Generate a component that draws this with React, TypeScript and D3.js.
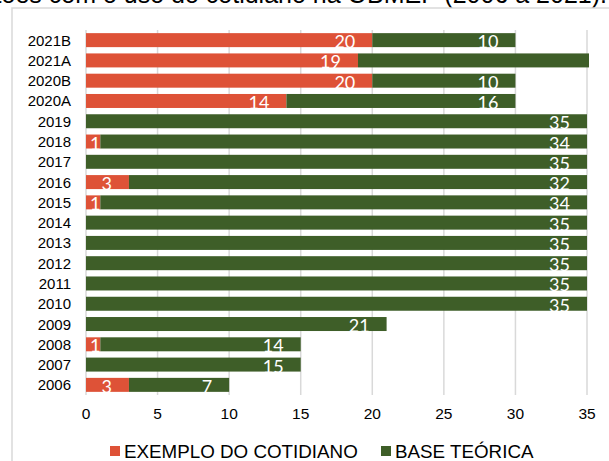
import React, { useEffect, useRef } from 'react';
import * as d3 from 'd3';

const categories = ['2021B', '2021A', '2020B', '2020A', '2019', '2018', '2017', '2016', '2015',
  '2014', '2013', '2012', '2011', '2010', '2009', '2008', '2007', '2006'];
const exemplo = [20, 19, 20, 14, 0, 1, 0, 3, 1, 0, 0, 0, 0, 0, 0, 1, 0, 3];
const base = [10, 17, 10, 16, 35, 34, 35, 32, 34, 35, 35, 35, 35, 35, 21, 14, 15, 7];
const seriesNames = ['EXEMPLO DO COTIDIANO', 'BASE TEÓRICA'];
const xTicks = [0, 5, 10, 15, 20, 25, 30, 35];
const title = 'Gráfico 2 – Questões com o uso do cotidiano na OBMEP (2006 a 2021).';

const colors = ['#DE5237', '#3E5E28'];
const W = 609;
const H = 461;

export default function App() {
  const ref = useRef<SVGSVGElement>(null);

  useEffect(() => {
    const svg = d3.select(ref.current);
    svg.selectAll('*').remove();

    const x = d3.scaleLinear().domain([0, 35]).range([86, 587]);
    const y = d3.scaleBand().domain(categories).range([30, 395]).paddingInner(0.31).paddingOuter(0.155);
    const plotRight = x(35) + 2;

    // title (top cut off like the original crop)
    svg.append('text')
      .attr('x', 607).attr('y', 3)
      .attr('text-anchor', 'end')
      .attr('font-family', 'Liberation Sans, Arial, sans-serif')
      .attr('font-size', 25)
      .attr('fill', '#000')
      .text(title);

    // chart frame
    svg.append('rect')
      .attr('x', 12).attr('y', 8)
      .attr('width', W).attr('height', H)
      .attr('fill', '#fff')
      .attr('stroke', '#D9D9D9')
      .attr('stroke-width', 1.5);

    svg.append('g').selectAll('line')
      .data(xTicks)
      .enter().append('line')
      .attr('x1', d => x(d)).attr('x2', d => x(d))
      .attr('y1', 30).attr('y2', 395)
      .attr('stroke', '#D9D9D9')
      .attr('stroke-width', 1.5);

    svg.append('g').selectAll('text')
      .data(xTicks)
      .enter().append('text')
      .attr('x', d => x(d)).attr('y', 419)
      .attr('text-anchor', 'middle')
      .attr('font-family', 'Liberation Sans, Arial, sans-serif')
      .attr('font-size', 15.5)
      .text(d => d);

    svg.append('g').selectAll('text')
      .data(categories)
      .enter().append('text')
      .attr('x', 71)
      .attr('y', d => y(d)! + y.bandwidth() / 2 + 5.5)
      .attr('text-anchor', 'end')
      .attr('font-family', 'Liberation Sans, Arial, sans-serif')
      .attr('font-size', 15)
      .text(d => d);

    svg.append('clipPath').attr('id', 'plot-clip')
      .append('rect')
      .attr('x', x(0)).attr('y', 0)
      .attr('width', plotRight - x(0)).attr('height', H);

    const rows = categories.map((c, i) => ({ cat: c, values: [exemplo[i], base[i]] }));
    const segs: any[] = [];
    rows.forEach(r => {
      let start = 0;
      r.values.forEach((v, s) => {
        if (v > 0) segs.push({ cat: r.cat, s, v, start, end: start + v });
        start += v;
      });
    });

    svg.append('g').attr('clip-path', 'url(#plot-clip)')
      .selectAll('rect')
      .data(segs)
      .enter().append('rect')
      .attr('x', d => x(d.start))
      .attr('y', d => y(d.cat)!)
      .attr('width', d => x(d.end) - x(d.start))
      .attr('height', y.bandwidth())
      .attr('fill', d => colors[d.s]);

    // data labels, hidden when the bar runs past the plot
    const labels = svg.append('g')
      .attr('font-family', 'Lato, Open Sans, sans-serif')
      .attr('font-size', 18)
      .attr('fill', '#fff');
    segs.filter(d => x(d.end) <= plotRight - 1).forEach(d => {
      const t = labels.append('text')
        .attr('y', y(d.cat)! + y.bandwidth() / 2 + 8)
        .text(d.v);
      const w = (t.node() as SVGTextElement).getComputedTextLength();
      let tx = x(d.end) - 17 - w;
      if (tx < x(d.start) + 4) tx = x(d.start) + 4;
      t.attr('x', tx);
    });

    const legend = svg.append('g')
      .attr('font-family', 'Liberation Sans, Arial, sans-serif')
      .attr('font-size', 18.8);
    const legendX = [110, 381];
    seriesNames.forEach((name, i) => {
      legend.append('rect')
        .attr('x', legendX[i]).attr('y', 446)
        .attr('width', 10).attr('height', 10)
        .attr('fill', colors[i]);
      legend.append('text')
        .attr('x', legendX[i] + 14).attr('y', 458)
        .text(name);
    });
  }, []);

  return (
    <svg ref={ref} width={W} height={H}
      style={{ position: 'absolute', left: 0, top: 0, background: '#fff' }} />
  );
}
